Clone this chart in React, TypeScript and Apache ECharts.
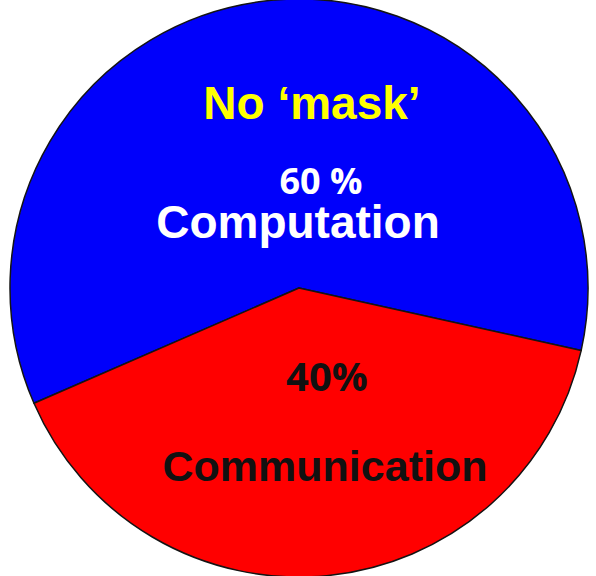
import React, { useEffect, useRef } from "react";
import * as echarts from "echarts";

// Share of run time, in percent
const categories = ["Computation", "Communication"];
const values = [60, 40];
const colors = ["#0000fb", "#ff0000"];
const title = "No \u2018mask\u2019";

export default function App() {
  const ref = useRef<HTMLDivElement>(null);

  useEffect(() => {
    document.body.style.margin = "0";
    const chart = echarts.init(ref.current!, undefined, { renderer: "svg" });
    const arial = "'Liberation Sans', Arial, sans-serif";
    const calibri = "'Open Sans', 'Noto Sans', sans-serif";
    const label = (x: number, y: number, text: string, fill: string, font: string) => ({
      type: "text",
      x,
      y,
      z: 100,
      style: { text, fill, font, align: "center", verticalAlign: "middle" },
    });
    chart.setOption({
      animation: false,
      backgroundColor: "#ffffff",
      series: [
        {
          type: "pie",
          center: [299, 288],
          radius: [0, 289],
          startAngle: 203.5,
          clockwise: true,
          silent: true,
          label: { show: false },
          labelLine: { show: false },
          itemStyle: { borderColor: "#141414", borderWidth: 1.5 },
          data: categories.map((name, i) => ({
            name,
            value: values[i],
            itemStyle: { color: colors[i] },
          })),
        },
      ],
      graphic: [
        label(312, 103, title, "#ffff00", `bold 46px ${arial}`),
        {
          // percentage stacked above the slice name, in one block
          type: "text",
          x: 298,
          y: 202,
          z: 100,
          style: {
            text: `{pct|${values[0]} %}\n{name|${categories[0]}}`,
            align: "center",
            verticalAlign: "middle",
            fill: "#ffffff",
            rich: {
              pct: {
                fill: "#ffffff",
                font: `bold 36px ${calibri}`,
                lineHeight: 40,
                padding: [0, 0, 0, 46],
              },
              name: {
                fill: "#ffffff",
                font: `bold 46px ${arial}`,
                lineHeight: 44,
              },
            },
          },
        },
        label(327, 375, `${values[1]}%`, "#111111", `bold 40px ${calibri}`),
        label(325, 466, categories[1], "#111111", `bold 43px ${arial}`),
      ],
    });
    return () => chart.dispose();
  }, []);

  return <div ref={ref} style={{ width: 596, height: 576 }} />;
}
